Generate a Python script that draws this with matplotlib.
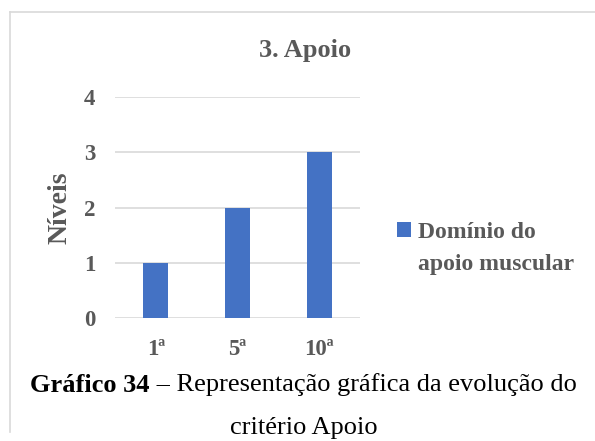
import matplotlib.pyplot as plt
from matplotlib.lines import Line2D

sessoes = ['1ª', '5ª', '10ª']
niveis = [1, 2, 3]
serie = ['Domínio do', 'apoio muscular']
yticks = [0, 1, 2, 3, 4]

cinza = '#595959'
azul = '#4472C4'
grelha = '#D9D9D9'

plt.rcParams['font.family'] = ['Liberation Serif', 'DejaVu Serif']

fig = plt.figure(figsize=(5.95, 4.41), dpi=100)
ax = fig.add_axes([115 / 595, 1 - 318 / 441, 245 / 595, 221 / 441])

x = range(len(sessoes))
ax.bar(x, niveis, width=0.31, color=azul, label=serie[0], zorder=3)

ax.set_xlim(-0.5, 2.5)
ax.set_ylim(0, 4)
ax.set_yticks(yticks)
ax.set_xticks(list(x))
ax.set_xticklabels(sessoes)
ax.yaxis.grid(True, color=grelha, linewidth=1.2, zorder=0)
for s in ax.spines.values():
    s.set_visible(False)
ax.tick_params(length=0, labelsize=16.5, labelcolor=cinza, pad=14)
ax.tick_params(axis='x', pad=15)
for lab in ax.get_xticklabels() + ax.get_yticklabels():
    lab.set_fontweight('bold')

ax.set_ylabel('Níveis', fontsize=20, fontweight='bold', color=cinza, labelpad=8)
fig.text(305 / 595, 1 - 50 / 441, '3. Apoio', ha='center', va='center',
         fontsize=19, fontweight='bold', color=cinza)

leg = ax.legend(loc='upper left', bbox_to_anchor=(397 / 595, 1 - 222 / 441),
                bbox_transform=fig.transFigure, frameon=False,
                prop={'size': 17, 'weight': 'bold'}, handlelength=0.6,
                handleheight=0.6, handletextpad=0.3, borderpad=0,
                borderaxespad=0)
for t in leg.get_texts():
    t.set_color(cinza)

fig.canvas.draw()
lb = leg.get_texts()[0].get_window_extent()
fig.text(lb.x0 / fig.bbox.width, 1 - 270 / 441, serie[1], ha='left',
         va='baseline', fontsize=17, fontweight='bold', color=cinza)

# moldura do gráfico
fig.add_artist(Line2D([10 / 595, 1], [1 - 12 / 441, 1 - 12 / 441],
                      color=grelha, linewidth=1.2, transform=fig.transFigure))
fig.add_artist(Line2D([10 / 595, 10 / 595], [1 - 12 / 441, 1 - 432 / 441],
                      color=grelha, linewidth=1.2, transform=fig.transFigure))

# legenda da figura
t1 = fig.text(30 / 595, 1 - 385 / 441, 'Gráfico 34', ha='left', va='center',
              fontsize=19, fontweight='bold', color='black')
fig.canvas.draw()
bb = t1.get_window_extent()
fig.text(bb.x1 / fig.bbox.width, 1 - 385 / 441,
         ' – Representação gráfica da evolução do', ha='left', va='center',
         fontsize=19, color='black')
fig.text(304 / 595, 1 - 428 / 441, 'critério Apoio', ha='center', va='center',
         fontsize=19, color='black')

fig.savefig('out.png', dpi=100, facecolor='white')
